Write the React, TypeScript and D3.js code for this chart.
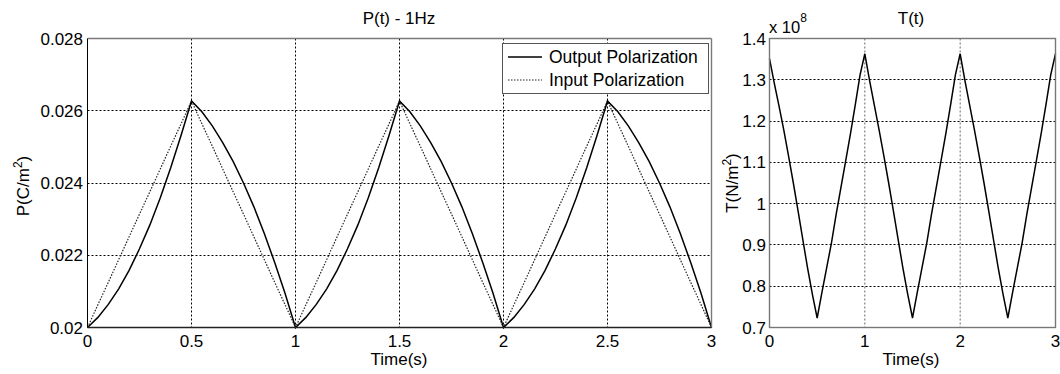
import React from 'react';
import * as d3 from 'd3';

const timeS = [
  0, 0.05, 0.1, 0.15, 0.2, 0.25, 0.3, 0.35, 0.4, 0.45, 0.5, 0.55, 0.6, 0.65, 0.7, 0.75, 0.8, 0.85, 0.9, 0.95,
  1, 1.05, 1.1, 1.15, 1.2, 1.25, 1.3, 1.35, 1.4, 1.45, 1.5, 1.55, 1.6, 1.65, 1.7, 1.75, 1.8, 1.85, 1.9, 1.95,
  2, 2.05, 2.1, 2.15, 2.2, 2.25, 2.3, 2.35, 2.4, 2.45, 2.5, 2.55, 2.6, 2.65, 2.7, 2.75, 2.8, 2.85, 2.9, 2.95, 3,
];

const outputP = [
  0.02, 0.02028, 0.02064, 0.02107, 0.02158, 0.02218, 0.02284, 0.02359, 0.02442, 0.02532,
  0.02627, 0.02597, 0.02558, 0.02512, 0.0246, 0.024, 0.02334, 0.0226, 0.0218, 0.02094,
  0.02, 0.02028, 0.02064, 0.02107, 0.02158, 0.02218, 0.02284, 0.02359, 0.02442, 0.02532,
  0.02627, 0.02597, 0.02558, 0.02512, 0.0246, 0.024, 0.02334, 0.0226, 0.0218, 0.02094,
  0.02, 0.02028, 0.02064, 0.02107, 0.02158, 0.02218, 0.02284, 0.02359, 0.02442, 0.02532,
  0.02627, 0.02597, 0.02558, 0.02512, 0.0246, 0.024, 0.02334, 0.0226, 0.0218, 0.02094, 0.02,
];

const inputP = [
  0.02, 0.02063, 0.02125, 0.02188, 0.02251, 0.02314, 0.02376, 0.02439, 0.02502, 0.02564,
  0.02627, 0.02564, 0.02502, 0.02439, 0.02376, 0.02314, 0.02251, 0.02188, 0.02125, 0.02063,
  0.02, 0.02063, 0.02125, 0.02188, 0.02251, 0.02314, 0.02376, 0.02439, 0.02502, 0.02564,
  0.02627, 0.02564, 0.02502, 0.02439, 0.02376, 0.02314, 0.02251, 0.02188, 0.02125, 0.02063,
  0.02, 0.02063, 0.02125, 0.02188, 0.02251, 0.02314, 0.02376, 0.02439, 0.02502, 0.02564,
  0.02627, 0.02564, 0.02502, 0.02439, 0.02376, 0.02314, 0.02251, 0.02188, 0.02125, 0.02063, 0.02,
];

// stress in units of 1e8 N/m^2
const stressT = [
  1.351, 1.292, 1.236, 1.178, 1.115, 1.05, 0.982, 0.912, 0.843, 0.78,
  0.723, 0.785, 0.845, 0.905, 0.975, 1.04, 1.105, 1.17, 1.24, 1.312,
  1.363, 1.298, 1.238, 1.178, 1.115, 1.05, 0.982, 0.912, 0.843, 0.78,
  0.723, 0.785, 0.845, 0.905, 0.975, 1.04, 1.105, 1.17, 1.24, 1.312,
  1.363, 1.298, 1.238, 1.178, 1.115, 1.05, 0.982, 0.912, 0.843, 0.78,
  0.723, 0.785, 0.845, 0.905, 0.975, 1.04, 1.105, 1.17, 1.24, 1.312, 1.363,
];

const leftXTicks = [0, 0.5, 1, 1.5, 2, 2.5, 3];
const leftXTickLabels = ['0', '0.5', '1', '1.5', '2', '2.5', '3'];
const leftYTicks = [0.02, 0.022, 0.024, 0.026, 0.028];
const leftYTickLabels = ['0.02', '0.022', '0.024', '0.026', '0.028'];
const rightXTicks = [0, 1, 2, 3];
const rightXTickLabels = ['0', '1', '2', '3'];
const rightYTicks = [0.7, 0.8, 0.9, 1.0, 1.1, 1.2, 1.3, 1.4];
const rightYTickLabels = ['0.7', '0.8', '0.9', '1', '1.1', '1.2', '1.3', '1.4'];

const legendLabels = ['Output Polarization', 'Input Polarization'];

const FONT = '"Liberation Sans", Arial, Helvetica, sans-serif';

export default function App() {
  const lx = d3.scaleLinear().domain([0, 3]).range([87.5, 711.5]);
  const ly = d3.scaleLinear().domain([0.02, 0.028]).range([327.5, 38.5]);
  const rx = d3.scaleLinear().domain([0, 3]).range([769.5, 1055.5]);
  const ry = d3.scaleLinear().domain([0.7, 1.4]).range([327.5, 38.5]);

  const idx = d3.range(timeS.length);
  const lineOut = d3.line<number>().x((i) => lx(timeS[i])).y((i) => ly(outputP[i]))(idx) || '';
  const lineIn = d3.line<number>().x((i) => lx(timeS[i])).y((i) => ly(inputP[i]))(idx) || '';
  const lineT = d3.line<number>().x((i) => rx(timeS[i])).y((i) => ry(stressT[i]))(idx) || '';

  const snap = (v: number) => Math.round(v - 0.5) + 0.5;

  const L = { x0: 87.5, x1: 711.5, y0: 38.5, y1: 327.5 };
  const R = { x0: 769.5, x1: 1055.5, y0: 38.5, y1: 327.5 };

  return (
    <svg
      width={1060}
      height={374}
      style={{ position: 'absolute', left: 0, top: 0, background: '#fff' }}
      fontFamily={FONT}
    >
      <rect x={0} y={0} width={1060} height={374} fill="#fff" />

      {/* ---------- Left plot ---------- */}
      <g>
        {leftXTicks.slice(1, -1).map((t) => (
          <line key={'lgx' + t} x1={lx(t)} x2={lx(t)} y1={L.y0} y2={L.y1} stroke="#000" strokeWidth={1} strokeDasharray="2,2" />
        ))}
        {leftYTicks.slice(1, -1).map((v) => (
          <line key={'lgy' + v} x1={L.x0} x2={L.x1} y1={snap(ly(v))} y2={snap(ly(v))} stroke="#000" strokeWidth={1} strokeDasharray="2,2" />
        ))}
        <path d={lineIn} fill="none" stroke="#222" strokeWidth={1.2} strokeDasharray="1.5,1.5" />
        <path d={lineOut} fill="none" stroke="#000" strokeWidth={1.5} />
        <line x1={L.x0} x2={L.x1} y1={L.y0} y2={L.y0} stroke="#7a7a7a" strokeWidth={1.6} />
        <line x1={L.x1} x2={L.x1} y1={L.y0} y2={L.y1} stroke="#7a7a7a" strokeWidth={1.4} />
        <line x1={L.x0} x2={L.x0} y1={L.y0} y2={L.y1} stroke="#000" strokeWidth={1} />
        <line x1={L.x0} x2={L.x1} y1={L.y1} y2={L.y1} stroke="#222" strokeWidth={1.3} />
        {leftXTicks.map((t, i) => (
          <text key={'lxt' + t} x={lx(t)} y={347} fontSize={17} textAnchor="middle" fill="#000">
            {leftXTickLabels[i]}
          </text>
        ))}
        {leftYTicks.map((v, i) => (
          <text key={'lyt' + v} x={83} y={ly(v) + 6} fontSize={17} textAnchor="end" fill="#000">
            {leftYTickLabels[i]}
          </text>
        ))}
        <text x={399} y={24} fontSize={17} textAnchor="middle" fill="#000">P(t) - 1Hz</text>
        <text x={399} y={365} fontSize={17} textAnchor="middle" fill="#000">Time(s)</text>
        <text transform="translate(29,186) rotate(-90)" fontSize={17} textAnchor="middle" fill="#000">
          P(C/m<tspan dy={-7} fontSize={12}>2</tspan><tspan dy={7}>)</tspan>
        </text>

        {/* legend */}
        <rect x={502.5} y={43.5} width={206} height={50} fill="#fff" stroke="#555" strokeWidth={1} />
        <line x1={508} x2={542} y1={57} y2={57} stroke="#000" strokeWidth={1.5} />
        <line x1={508} x2={542} y1={80} y2={80} stroke="#222" strokeWidth={1.2} strokeDasharray="1.5,1.5" />
        <text x={549} y={63} fontSize={17.5} fill="#000">{legendLabels[0]}</text>
        <text x={549} y={86} fontSize={17.5} fill="#000">{legendLabels[1]}</text>
      </g>

      {/* ---------- Right plot ---------- */}
      <g>
        {rightXTicks.slice(1, -1).map((t) => (
          <line key={'rgx' + t} x1={rx(t)} x2={rx(t)} y1={R.y0} y2={R.y1} stroke="#666" strokeWidth={1} strokeDasharray="2,2" />
        ))}
        {rightYTicks.slice(1, -1).map((v) => (
          <line key={'rgy' + v} x1={R.x0} x2={R.x1} y1={snap(ry(v))} y2={snap(ry(v))} stroke="#000" strokeWidth={1} strokeDasharray="2,2" />
        ))}
        <path d={lineT} fill="none" stroke="#000" strokeWidth={1.5} />
        <rect x={R.x0} y={R.y0} width={R.x1 - R.x0} height={R.y1 - R.y0} fill="none" stroke="#777" strokeWidth={1.4} />
        {rightXTicks.map((t, i) => (
          <text key={'rxt' + t} x={rx(t)} y={347} fontSize={17} textAnchor="middle" fill="#000">
            {rightXTickLabels[i]}
          </text>
        ))}
        {rightYTicks.map((v, i) => (
          <text key={'ryt' + v} x={766} y={ry(v) + 6} fontSize={17} textAnchor="end" fill="#000">
            {rightYTickLabels[i]}
          </text>
        ))}
        <text x={769} y={33} fontSize={16.5} fill="#000">
          x 10<tspan dy={-11} fontSize={12}>8</tspan>
        </text>
        <text x={911} y={24} fontSize={17} textAnchor="middle" fill="#000">T(t)</text>
        <text x={911} y={365} fontSize={17} textAnchor="middle" fill="#000">Time(s)</text>
        <text transform="translate(738,183) rotate(-90)" fontSize={17} textAnchor="middle" fill="#000">
          T(N/m<tspan dy={-7} fontSize={12}>2</tspan><tspan dy={7}>)</tspan>
        </text>
      </g>
    </svg>
  );
}
